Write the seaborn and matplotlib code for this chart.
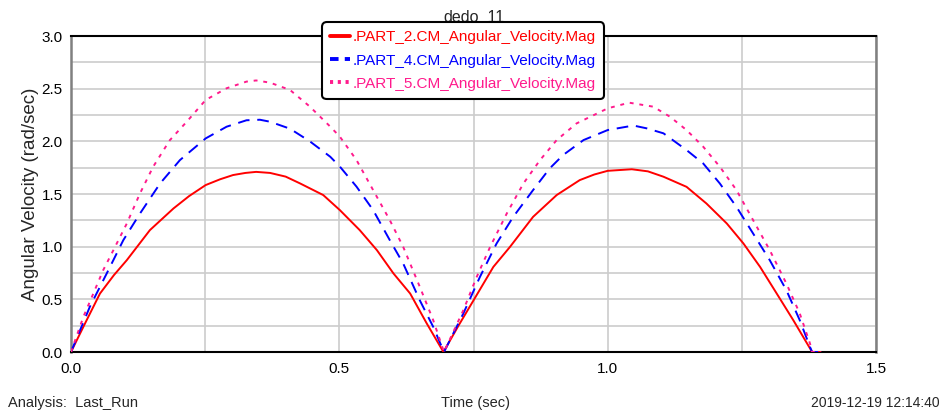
import matplotlib
matplotlib.use("Agg")
import matplotlib.pyplot as plt
import seaborn as sns
import pandas as pd

# Sampled angular velocity magnitudes (rad/sec) vs time (sec)
t_part2 = [0, 0.027, 0.054, 0.08, 0.104, 0.147, 0.191, 0.22, 0.251, 0.278, 0.302, 0.325,
           0.345, 0.371, 0.40, 0.427, 0.470, 0.501, 0.538, 0.570, 0.601, 0.632, 0.663,
           0.694, 0.722, 0.75, 0.787, 0.818, 0.861, 0.905, 0.948, 0.975, 1.0, 1.045,
           1.075, 1.104, 1.147, 1.184, 1.222, 1.253, 1.284, 1.315, 1.346, 1.381, 1.396]
v_part2 = [0, 0.28, 0.555, 0.73, 0.872, 1.157, 1.363, 1.48, 1.585, 1.64, 1.68, 1.70,
           1.71, 1.70, 1.665, 1.60, 1.49, 1.347, 1.157, 0.967, 0.745, 0.555, 0.27,
           0, 0.25, 0.49, 0.808, 0.998, 1.283, 1.49, 1.632, 1.685, 1.72, 1.735,
           1.715, 1.664, 1.568, 1.41, 1.22, 1.03, 0.808, 0.555, 0.301, 0, 0]

t_part4 = [0, 0.035, 0.0665, 0.0975, 0.1286, 0.166, 0.203, 0.251, 0.29, 0.327, 0.352,
           0.371, 0.408, 0.445, 0.483, 0.501, 0.532, 0.563, 0.594, 0.619, 0.650, 0.675,
           0.695, 0.731, 0.762, 0.793, 0.824, 0.861, 0.892, 0.917, 0.955, 1.0, 1.048,
           1.073, 1.104, 1.147, 1.178, 1.209, 1.240, 1.271, 1.302, 1.333, 1.358, 1.377,
           1.381, 1.398]
v_part4 = [0, 0.428, 0.745, 1.062, 1.315, 1.60, 1.822, 2.028, 2.139, 2.2, 2.205,
           2.186, 2.12, 2.0, 1.854, 1.76, 1.57, 1.347, 1.062, 0.84, 0.49, 0.238,
           0, 0.365, 0.713, 1.03, 1.283, 1.537, 1.743, 1.87, 2.012, 2.107, 2.15,
           2.123, 2.076, 1.917, 1.79, 1.60, 1.378, 1.125, 0.872, 0.587, 0.301, 0.048,
           0, 0]

t_part5 = [0, 0.023, 0.0416, 0.060, 0.079, 0.104, 0.1286, 0.153, 0.184, 0.2156, 0.251,
           0.29, 0.327, 0.345, 0.371, 0.408, 0.445, 0.483, 0.501, 0.532, 0.563, 0.594,
           0.619, 0.650, 0.675, 0.695, 0.731, 0.756, 0.781, 0.812, 0.843, 0.874, 0.905,
           0.942, 1.0, 1.040, 1.085, 1.116, 1.147, 1.178, 1.209, 1.240, 1.271, 1.302,
           1.333, 1.358, 1.377, 1.381, 1.398]
v_part5 = [0, 0.333, 0.555, 0.777, 0.967, 1.22, 1.506, 1.758, 2.01, 2.186, 2.393,
           2.504, 2.567, 2.578, 2.557, 2.488, 2.33, 2.14, 2.044, 1.822, 1.537, 1.252,
           0.998, 0.618, 0.301, 0, 0.396, 0.713, 0.998, 1.315, 1.60, 1.822, 2.012,
           2.17, 2.313, 2.367, 2.329, 2.234, 2.107, 1.949, 1.759, 1.537, 1.252, 0.967,
           0.65, 0.365, 0.08, 0, 0]

series_names = [".PART_2.CM_Angular_Velocity.Mag",
                ".PART_4.CM_Angular_Velocity.Mag",
                ".PART_5.CM_Angular_Velocity.Mag"]
series_colors = ["#ff0000", "#0000ff", "#ff1a8c"]
series_styles = ["-", (0, (6, 4)), (0, (2, 3))]
legend_styles = ["-", (0, (2.2, 1.6)), (0, (0.8, 1.2))]

x_ticks = [0.0, 0.5, 1.0, 1.5]
y_ticks = [0.0, 0.5, 1.0, 1.5, 2.0, 2.5, 3.0]

sns.set_style("white")
plt.rcParams["font.family"] = ["Liberation Sans", "DejaVu Sans"]

fig = plt.figure(figsize=(9.46, 4.19), dpi=100)
ax = fig.add_axes([71 / 946, 1 - 352 / 419, (876 - 71) / 946, (352 - 36) / 419])

frames = [pd.DataFrame({"t": t_part2, "v": v_part2}),
          pd.DataFrame({"t": t_part4, "v": v_part4}),
          pd.DataFrame({"t": t_part5, "v": v_part5})]

for df, name, col, ls in zip(frames, series_names, series_colors, series_styles):
    sns.lineplot(data=df, x="t", y="v", ax=ax, color=col, linestyle=ls,
                 linewidth=1.4, label=name, estimator=None, sort=False, zorder=3)

ax.set_xlim(0, 1.5)
ax.set_ylim(0, 3.0)
ax.set_xticks(x_ticks)
ax.set_xticks([0.25, 0.75, 1.25], minor=True)
ax.set_yticks(y_ticks)
ax.set_yticks([0.25, 0.75, 1.25, 1.75, 2.25, 2.75], minor=True)
ax.set_xticklabels([f"{v:.1f}" for v in x_ticks], fontsize=11)
ax.set_yticklabels([f"{v:.1f}" for v in y_ticks], fontsize=11)
ax.grid(True, which="both", color="#cccccc", linewidth=1.2, zorder=0)
ax.tick_params(axis="both", which="both", direction="out", colors="#808080",
               labelcolor="black", length=4, width=1)
ax.tick_params(axis="y", pad=2)
ax.tick_params(axis="x", pad=3)

for side in ("top", "bottom"):
    ax.spines[side].set_color("black")
    ax.spines[side].set_linewidth(1.5)
for side in ("left", "right"):
    ax.spines[side].set_color("#808080")
    ax.spines[side].set_linewidth(1.8)

ax.set_xlabel("")
ax.set_ylabel("Angular Velocity (rad/sec)", fontsize=13.5, labelpad=2)
ax.set_title("dedo_11", fontsize=11.5, pad=10)

leg = ax.legend(loc="upper left", bbox_to_anchor=(322 / 946, 1 - 22 / 419),
                bbox_transform=fig.transFigure, frameon=True, fancybox=True,
                framealpha=1, edgecolor="black", fontsize=11, handlelength=1.3,
                handletextpad=0.15, labelspacing=0.6, borderpad=0.55,
                borderaxespad=0)
leg.get_frame().set_linewidth(1.5)
leg.get_frame().set_boxstyle("round,pad=0,rounding_size=0.3")
leg.set_zorder(10)
for txt, col in zip(leg.get_texts(), series_colors):
    txt.set_color(col)
for hnd, ls in zip(leg.get_lines(), legend_styles):
    hnd.set_linewidth(2.8)
    hnd.set_linestyle(ls)

fig.text(8 / 946, 1 - 403 / 419, "Analysis:  Last_Run", fontsize=10.5,
         ha="left", va="center")
fig.text(475 / 946, 1 - 403 / 419, "Time (sec)", fontsize=10.5,
         ha="center", va="center")
fig.text(940 / 946, 1 - 403 / 419, "2019-12-19 12:14:40", fontsize=10,
         ha="right", va="center")

fig.savefig("out.png", dpi=100)
